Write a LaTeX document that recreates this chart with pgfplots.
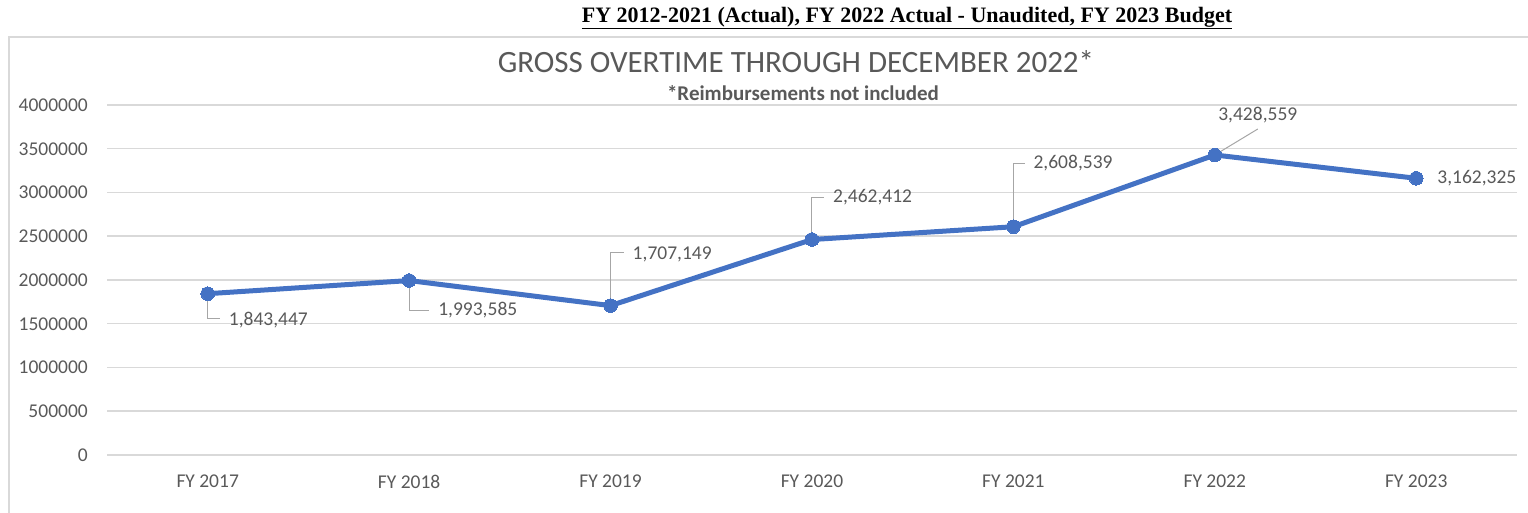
\documentclass[border=0pt]{standalone}
\usepackage{pgfplots}
\pgfplotsset{compat=1.18}
\usepackage{fontspec}
\setmainfont{Carlito}
\newfontfamily\serifbf{Liberation Serif}
\definecolor{textgray}{HTML}{595959}
\definecolor{gridgray}{HTML}{D9D9D9}
\definecolor{leadergray}{HTML}{A6A6A6}
\definecolor{linecolor}{HTML}{4472C4}
\begin{document}
\begin{tikzpicture}[x=1pt,y=1pt]
\useasboundingbox (0,0) rectangle (1528,513);
\draw[draw=gridgray, line width=1.5pt] (9,-5) rectangle (1540,476);
\node[font=\serifbf\bfseries\fontsize{22}{26}\selectfont, text=black, inner sep=0pt] at (907,495) {\underline{FY 2012-2021 (Actual), FY 2022 Actual - Unaudited, FY 2023 Budget}};
\node[font=\fontsize{31}{35}\selectfont, text=textgray, inner sep=0pt] at (796,451) {GROSS OVERTIME THROUGH DECEMBER 2022*};
\node[font=\bfseries\fontsize{21}{25}\selectfont, text=textgray, inner sep=0pt] at (803,420) {*Reimbursements not included};
\begin{axis}[
  at={(107pt,58pt)}, anchor=south west,
  scale only axis, width=1410pt, height=350pt,
  xmin=-0.5, xmax=6.5, ymin=0, ymax=4000000,
  xtick={0,1,2,3,4,5,6},
  xticklabels={FY 2017,FY 2018,FY 2019,FY 2020,FY 2021,FY 2022,FY 2023},
  ytick={0,500000,1000000,1500000,2000000,2500000,3000000,3500000,4000000},
  scaled y ticks=false,
  yticklabel={\pgfmathprintnumber[fixed,precision=0,1000 sep={}]{\tick}},
  /pgf/number format/assume math mode=true,
  ymajorgrids, grid style={draw=gridgray, line width=1.5pt},
  axis line style={draw=none},
  major tick length=0pt, tick style={draw=none},
  ticklabel style={font=\fontsize{19.5}{23}\selectfont, text=textgray, inner sep=0pt},
  yticklabel style={anchor=east},
  xticklabel style={anchor=north},
  yticklabel shift=19pt,
  xticklabel shift=20pt,
  clip=false,
]
\addplot[color=linecolor, line width=5pt, mark=*, mark size=6.8pt,
  mark options={solid, fill=linecolor, draw=linecolor, line width=0pt}]
  coordinates {(0,1843447) (1,1993585) (2,1707149) (3,2462412) (4,2608539) (5,3428559) (6,3162325)};
\tikzset{lbl/.style={font=\fontsize{19.5}{23}\selectfont, text=textgray, inner sep=0pt},
         leader/.style={draw=leadergray, line width=1pt}}
\draw[leader] (axis cs:0,1843447) -- ++(0pt,-25pt) -- ++(12pt,0pt);
\node[lbl, anchor=west, xshift=21pt, yshift=-26pt] at (axis cs:0,1843447) {1,843,447};
\draw[leader] (axis cs:1,1993585) -- ++(0pt,-30pt) -- ++(20pt,0pt);
\node[lbl, anchor=west, xshift=29pt, yshift=-30pt] at (axis cs:1,1993585) {1,993,585};
\draw[leader] (axis cs:2,1707149) -- ++(0pt,53pt) -- ++(13pt,0pt);
\node[lbl, anchor=west, xshift=22pt, yshift=51pt] at (axis cs:2,1707149) {1,707,149};
\draw[leader] (axis cs:3,2462412) -- ++(0pt,42pt) -- ++(12pt,0pt);
\node[lbl, anchor=west, xshift=21pt, yshift=42pt] at (axis cs:3,2462412) {2,462,412};
\draw[leader] (axis cs:4,2608539) -- ++(0pt,63pt) -- ++(12pt,0pt);
\node[lbl, anchor=west, xshift=20pt, yshift=64pt] at (axis cs:4,2608539) {2,608,539};
\draw[leader] (axis cs:5,3428559) -- ++(43pt,26pt);
\node[lbl, anchor=center, xshift=43pt, yshift=40pt] at (axis cs:5,3428559) {3,428,559};
\node[lbl, anchor=west, xshift=21pt, yshift=0pt] at (axis cs:6,3162325) {3,162,325};
\end{axis}
\end{tikzpicture}
\end{document}
